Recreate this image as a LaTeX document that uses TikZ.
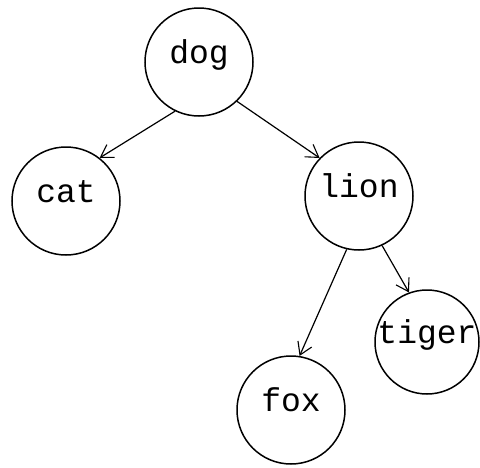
\documentclass[tikz,border=0pt]{standalone}
\usepackage{fontspec}
\setmonofont{Liberation Mono}
\usetikzlibrary{arrows.meta}
\begin{document}
\begin{tikzpicture}[x=1pt,y=-1pt,
  animal/.style={circle,draw,line width=1.5pt,minimum size=108pt,inner sep=0pt,
    text height=0.62em,text depth=0.34em,
    font=\ttfamily\fontsize{33}{38}\selectfont},
  link/.style={line width=1.2pt,-{Straight Barb[length=12pt,width=15pt,line width=1.1pt]}}]
\useasboundingbox (0,0) rectangle (480,467);
% the tree
\node[animal] (dog)   at (199,62)  {dog};
\node[animal] (cat)   at (66,201)  {cat};
\node[animal] (lion)  at (359,196) {lion};
\node[animal] (fox)   at (291,410) {fox};
\node[animal,minimum size=104pt] (tiger) at (427,342) {tiger};
% edges from parent to child
\draw[link] (dog.244)  -- (cat.52);
\draw[link] (dog.314)  -- (lion.136);
\draw[link] (lion.257) -- (fox.81);
\draw[link] (lion.295) -- (tiger.110);
\end{tikzpicture}
\end{document}
